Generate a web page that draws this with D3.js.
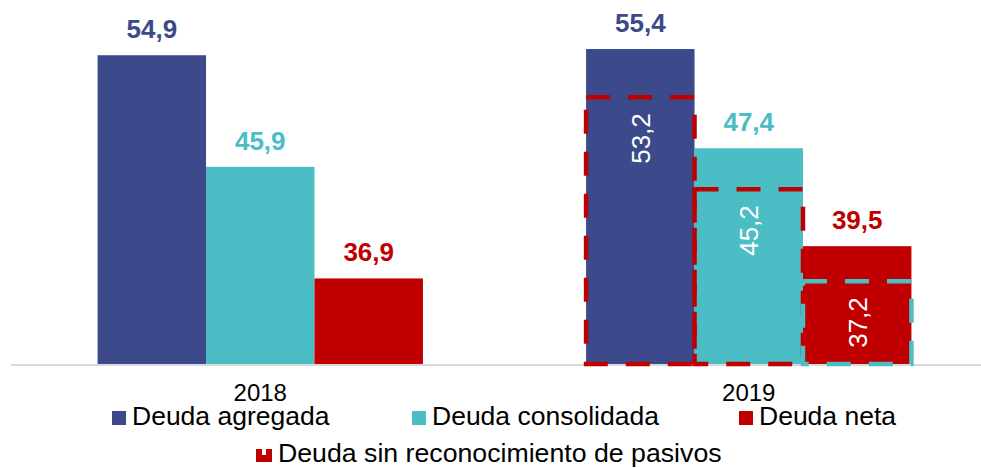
<!DOCTYPE html>
<html>
<head>
<meta charset="utf-8">
<script src="https://cdn.jsdelivr.net/npm/d3@7/dist/d3.min.js"></script>
<style>
  html, body { margin: 0; padding: 0; background: #fff; }
  svg { display: block; font-family: "Liberation Sans", Arial, sans-serif; }
</style>
</head>
<body>
<svg id="chart" width="981" height="468"></svg>
<script>
// ---- data ----
const years = ["2018", "2019"];
const series = ["Deuda agregada", "Deuda consolidada", "Deuda neta"];
const values2018 = [54.9, 45.9, 36.9];
const values2019 = [55.4, 47.4, 39.5];
const sinReconocimiento2019 = [53.2, 45.2, 37.2];
const dashedSeriesName = "Deuda sin reconocimiento de pasivos";
const colors = ["#3C4A8B", "#4BBDC4", "#C00000"];
const dashColors = ["#C00000", "#C00000", "#4BBDC4"];

const fmt = v => d3.format(".1f")(v).replace(".", ",");

const svg = d3.select("#chart");
const baseY = 364;

// scales
const x0 = d3.scaleBand().domain(years).range([16, 993]).paddingInner(0.334).paddingOuter(0.167);
const x1 = d3.scaleBand().domain(series).range([0, x0.bandwidth()]);
const y = d3.scaleLinear().domain([30, 60]).range([baseY, baseY - 30 * 12.4]);
const y2 = d3.scaleLinear().domain([30, 60]).range([baseY, baseY - 30 * 11.5]);
const color = d3.scaleOrdinal().domain(series).range(colors);

const data = [
  { year: "2018", vals: values2018 },
  { year: "2019", vals: values2019 }
];

// axis line
svg.append("line")
  .attr("x1", 11).attr("x2", 981)
  .attr("y1", baseY + 1).attr("y2", baseY + 1)
  .attr("stroke", "#D9D9D9").attr("stroke-width", 2.2);

// bars
const groups = svg.selectAll("g.grp").data(data).enter().append("g")
  .attr("transform", d => `translate(${x0(d.year)},0)`);

groups.selectAll("rect").data(d => d.vals.map((v, i) => ({ s: series[i], v })))
  .enter().append("rect")
  .attr("x", d => x1(d.s))
  .attr("width", x1.bandwidth())
  .attr("y", d => y(d.v))
  .attr("height", d => baseY - y(d.v))
  .attr("fill", d => color(d.s));

groups.selectAll("text.val").data(d => d.vals.map((v, i) => ({ s: series[i], v })))
  .enter().append("text")
  .attr("class", "val")
  .attr("x", d => x1(d.s) + x1.bandwidth() / 2)
  .attr("y", d => y(d.v) - 17)
  .attr("text-anchor", "middle")
  .attr("font-size", 26)
  .attr("font-weight", "bold")
  .attr("fill", d => color(d.s))
  .text(d => fmt(d.v));

// dashed boxes (2019, secondary scale)
const g19 = svg.append("g").attr("transform", `translate(${x0("2019")},0)`);
const dashData = sinReconocimiento2019.map((v, i) => ({ s: series[i], v, c: dashColors[i] }));
g19.selectAll("rect.dash").data(dashData).enter().append("rect")
  .attr("class", "dash")
  .attr("x", d => x1(d.s))
  .attr("width", x1.bandwidth())
  .attr("y", d => y2(d.v))
  .attr("height", d => baseY - y2(d.v))
  .attr("fill", "none")
  .attr("stroke", d => d.c)
  .attr("stroke-width", 4.5)
  .attr("stroke-dasharray", "24 18");

g19.selectAll("text.inner").data(dashData).enter().append("text")
  .attr("class", "inner")
  .attr("transform", d => `translate(${x1(d.s) + x1.bandwidth() / 2},${y2(d.v) + 16}) rotate(-90)`)
  .attr("text-anchor", "end")
  .attr("dy", "0.36em")
  .attr("font-size", 26)
  .attr("fill", "#fff")
  .text(d => fmt(d.v));

// category labels
svg.selectAll("text.cat").data(years).enter().append("text")
  .attr("class", "cat")
  .attr("x", d => x0(d) + x0.bandwidth() / 2)
  .attr("y", 401)
  .attr("text-anchor", "middle")
  .attr("font-size", 24)
  .attr("fill", "#000")
  .text(d => d);

// legend
const legendX = [112, 412, 739];
series.forEach((s, i) => {
  svg.append("rect").attr("x", legendX[i]).attr("y", 411).attr("width", 14).attr("height", 14).attr("fill", colors[i]);
  svg.append("text").attr("x", legendX[i] + 20).attr("y", 425).attr("font-size", 26.5).attr("fill", "#000").text(s);
});
// dashed legend marker
svg.append("rect").attr("x", 256).attr("y", 449).attr("width", 16).attr("height", 13).attr("fill", "#C00000");
svg.append("rect").attr("x", 262).attr("y", 449).attr("width", 4).attr("height", 6).attr("fill", "#fff");
svg.append("text").attr("x", 278).attr("y", 462).attr("font-size", 26.7).attr("fill", "#000").text(dashedSeriesName);
</script>
</body>
</html>
